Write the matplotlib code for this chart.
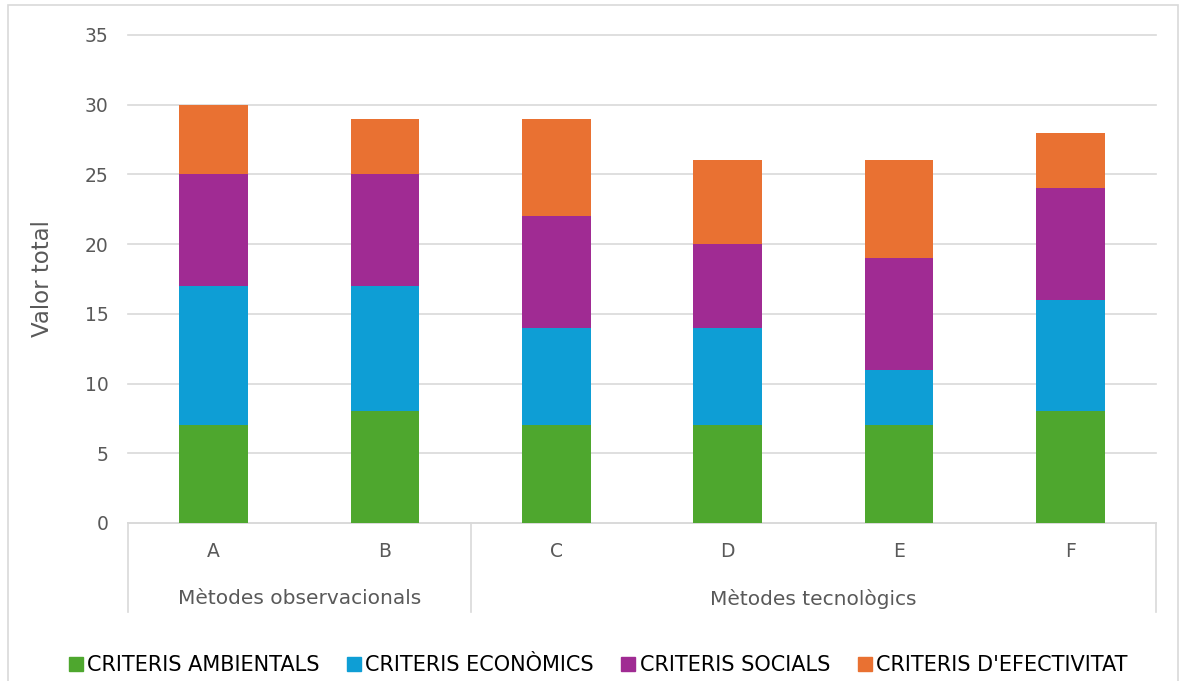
import numpy as np
import matplotlib.pyplot as plt
from matplotlib.patches import Rectangle
from matplotlib.lines import Line2D
from matplotlib.transforms import blended_transform_factory

categories = ['A', 'B', 'C', 'D', 'E', 'F']
groups = ['Mètodes observacionals', 'Mètodes tecnològics']
group_sizes = [2, 4]
ambientals = [7, 8, 7, 7, 7, 8]
economics = [10, 9, 7, 7, 4, 8]
socials = [8, 8, 8, 6, 8, 8]
efectivitat = [5, 4, 7, 6, 7, 4]
series_names = ['CRITERIS AMBIENTALS', 'CRITERIS ECONÒMICS', 'CRITERIS SOCIALS', "CRITERIS D'EFECTIVITAT"]
colors = ['#4EA72E', '#0E9ED5', '#A02B93', '#E97132']

plt.rcParams['font.family'] = ['DejaVu Sans']
txt = '#595959'

fig = plt.figure(figsize=(11.83, 6.81), dpi=100)
ax = fig.add_axes([128/1183, 1-523/681, (1156-128)/1183, (523-35)/681])

# outer chart border
fig.patches.append(Rectangle((8/1183, -0.05), (1178-8)/1183, 1.05-5/681, transform=fig.transFigure,
                             fill=False, edgecolor='#d9d9d9', linewidth=1.2))

x = np.arange(len(categories))
bottom = np.zeros(len(categories))
for vals, c, name in zip([ambientals, economics, socials, efectivitat], colors, series_names):
    ax.bar(x, vals, 0.4, bottom=bottom, color=c, label=name, zorder=3)
    bottom += np.array(vals)

ax.set_xlim(-0.5, len(categories)-0.5)
ax.set_ylim(0, 35)
ax.set_yticks(range(0, 36, 5))
ax.yaxis.grid(True, color='#d9d9d9', linewidth=1.2, zorder=0)
for gl in ax.get_ygridlines():
    gl.set_clip_on(False)
for s in ['top', 'right', 'left']:
    ax.spines[s].set_visible(False)
ax.spines['bottom'].set_color('#d9d9d9')
ax.spines['bottom'].set_linewidth(1.2)
ax.tick_params(axis='y', length=0, labelsize=13.5, labelcolor=txt, pad=14)
ax.set_xticks(x)
ax.set_xticklabels(categories)
ax.tick_params(axis='x', length=0, labelsize=13.5, labelcolor=txt, pad=14)
ax.set_ylabel('Valor total', fontsize=16.5, color=txt, labelpad=22)

# group labels and separators
tr = blended_transform_factory(ax.transData, ax.transAxes)
start = -0.5
ax.plot([start, start], [0, -0.182], transform=tr, color='#d9d9d9', lw=1.2, clip_on=False)
for g, n in zip(groups, group_sizes):
    end = start + n
    ax.plot([end, end], [0, -0.182], transform=tr, color='#d9d9d9', lw=1.2, clip_on=False)
    ax.text((start+end)/2, -0.155, g, transform=tr, ha='center', va='center', fontsize=14.5, color=txt)
    start = end

handles = [Line2D([], [], marker='s', linestyle='none', markersize=10, markerfacecolor=c, markeredgecolor=c)
           for c in colors]
fig.legend(handles, series_names, loc='center', bbox_to_anchor=(598/1183, 1-665/681), ncol=4, frameon=False,
           fontsize=15, handletextpad=0.2, columnspacing=1.3, handlelength=0.7, labelcolor='black')

fig.savefig('out.png', dpi=100)
